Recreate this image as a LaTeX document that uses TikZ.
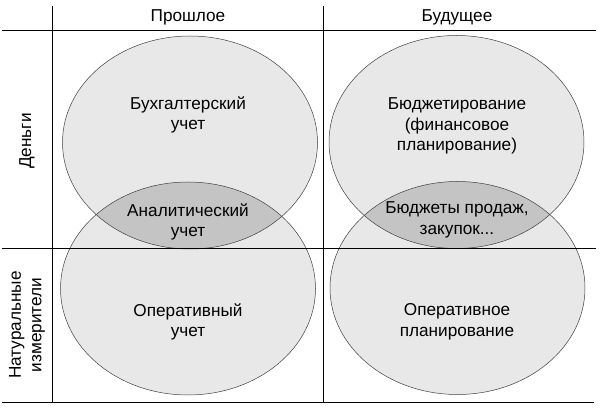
\documentclass[tikz,border=0pt]{standalone}
\usepackage{fontspec}
\setmainfont{Liberation Sans}
\usetikzlibrary{calc}
\definecolor{ovalgray}{HTML}{E8E8E8}
\definecolor{lensgray}{HTML}{C4C4C4}

\begin{document}
\begin{tikzpicture}[x=1pt,y=-1pt,
  every node/.style={font=\fontsize{17.2}{20.5}\selectfont,align=center,inner sep=0pt},
  oval/.style={x radius=127.5,y radius=106.5},
  rim/.style={draw=black!75,line width=0.5pt},
  grid/.style={draw=black,line width=0.9pt}]
\useasboundingbox (0,0) rectangle (605,411);
% centres of the four ovals
\coordinate (moneyPast) at (190,142.5);
\coordinate (unitPast)  at (188,288.5);
\coordinate (moneyFut)  at (456.5,142);
\coordinate (unitFut)   at (457.5,288);
% fills
\fill[ovalgray] (moneyPast) ellipse [oval];
\fill[ovalgray] (unitPast)  ellipse [oval];
\fill[ovalgray] (moneyFut)  ellipse [oval];
\fill[ovalgray] (unitFut)   ellipse [oval];
\begin{scope}
  \clip (moneyPast) ellipse [oval];
  \fill[lensgray] (unitPast) ellipse [oval];
\end{scope}
\begin{scope}
  \clip (moneyFut) ellipse [oval];
  \fill[lensgray] (unitFut) ellipse [oval];
\end{scope}
% outlines
\draw[rim] (moneyPast) ellipse [oval];
\draw[rim] (unitPast)  ellipse [oval];
\draw[rim] (moneyFut)  ellipse [oval];
\draw[rim] (unitFut)   ellipse [oval];
% table lines
\coordinate (tl) at (2,30);   \coordinate (tr) at (596,30);
\coordinate (ml) at (2,248);  \coordinate (mr) at (596,248);
\coordinate (bl) at (2,402);  \coordinate (br) at (594,402);
\coordinate (v1t) at (52,6);  \coordinate (v1b) at (52,403);
\coordinate (v2t) at (323,6); \coordinate (v2b) at (323,403);
\draw[grid] (tl) -- (tr);
\draw[grid] (ml) -- (mr);
\draw[grid] (bl) -- (br);
\draw[grid] (v1t) -- (v1b);
\draw[grid] (v2t) -- (v2b);
% headings
\node (past)   at (188,17) {Прошлое};
\node (future) at (457,17) {Будущее};
\node[rotate=90] (money) at (27,141) {Деньги};
\node[rotate=90] (units) at (27,325) {Натуральные\\измерители};
% texts
\node (buh)   at (188,115) {Бухгалтерский\\учет};
\node (anal)  at (188,222) {Аналитический\\учет};
\node (opuch) at (188,322) {Оперативный\\учет};
\node (budg)  at (457,126) {Бюджетирование\\(финансовое\\планирование)};
\node (sales) at (457,220) {Бюджеты продаж,\\закупок...};
\node (oppl)  at (457,322) {Оперативное\\планирование};
\end{tikzpicture}
\end{document}
